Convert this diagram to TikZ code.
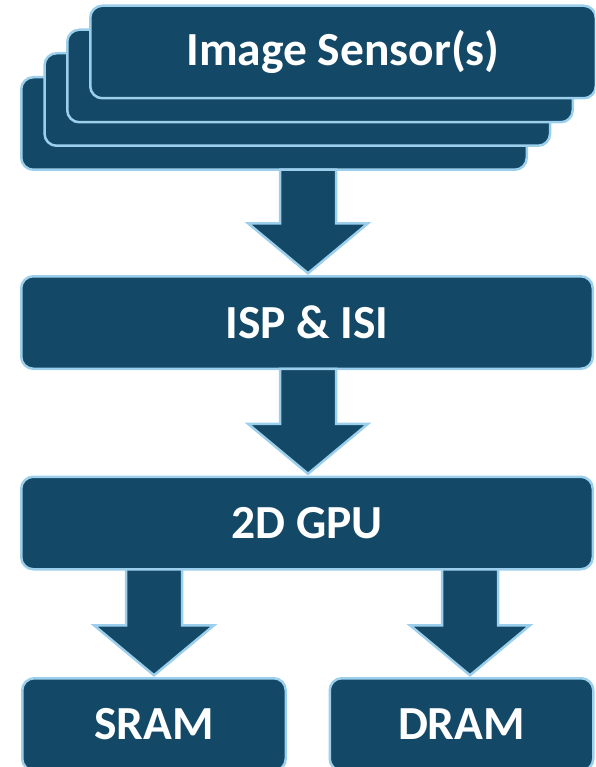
\documentclass[tikz,border=0pt]{standalone}
\usepackage{fontspec}
\setmainfont{Carlito}
\usetikzlibrary{calc}
\definecolor{boxfill}{HTML}{134966}
\definecolor{boxedge}{HTML}{9CCFEB}
\tikzset{
  blk/.style={draw=boxedge, fill=boxfill, line width=2.5pt, rounded corners=12pt,
    outer sep=0pt, inner sep=0pt, text=white, align=center,
    font=\bfseries\fontsize{47.5}{52}\selectfont, anchor=center},
  sensor/.style={blk, minimum width=505.5pt, minimum height=92.5pt},
  wide/.style={blk, minimum width=571.5pt, minimum height=92.5pt},
  mem/.style={blk, minimum width=263.5pt, minimum height=92.5pt},
  barrow/.style={draw=boxedge, fill=boxfill, line width=2.5pt, line join=miter},
}
% #1 source node, #2 target node, #3 horizontal shift of the arrow from the target centre
\newcommand{\blockarrow}[3]{%
  \draw[barrow] let \p1=(#1.south), \p2=(#2.north) in
    (\x2+#3-28pt,\y1) -- (\x2+#3+28pt,\y1) -- (\x2+#3+28pt,\y2+53pt)
    -- (\x2+#3+60pt,\y2+53pt) -- (\x2+#3,\y2+3pt) -- (\x2+#3-60pt,\y2+53pt)
    -- (\x2+#3-28pt,\y2+53pt) -- cycle;}
\begin{document}
\begin{tikzpicture}[x=1pt,y=-1pt]
  \useasboundingbox (0,0) rectangle (595,767);
  \clip (0,0) rectangle (595,767);
  % stacked image sensors
  \node[sensor] (s4) at (274,123.5) {};
  \node[sensor] (s3) at (297.3,99.5) {};
  \node[sensor] (s2) at (320,76) {};
  \node[sensor] (s1) at (343,52) {Image Sensor(s)};
  % processing blocks
  \node[wide] (isp) at (307,322.5) {ISP \& ISI};
  \node[wide] (gpu) at (307,523) {2D GPU};
  % memories
  \node[mem] (sram) at (154,724.5) {SRAM};
  \node[mem] (dram) at (461.5,724.5) {DRAM};
  % block arrows
  \blockarrow{s4}{isp}{1pt}
  \blockarrow{isp}{gpu}{1pt}
  \blockarrow{gpu}{sram}{0pt}
  \blockarrow{gpu}{dram}{8.5pt}
\end{tikzpicture}
\end{document}
